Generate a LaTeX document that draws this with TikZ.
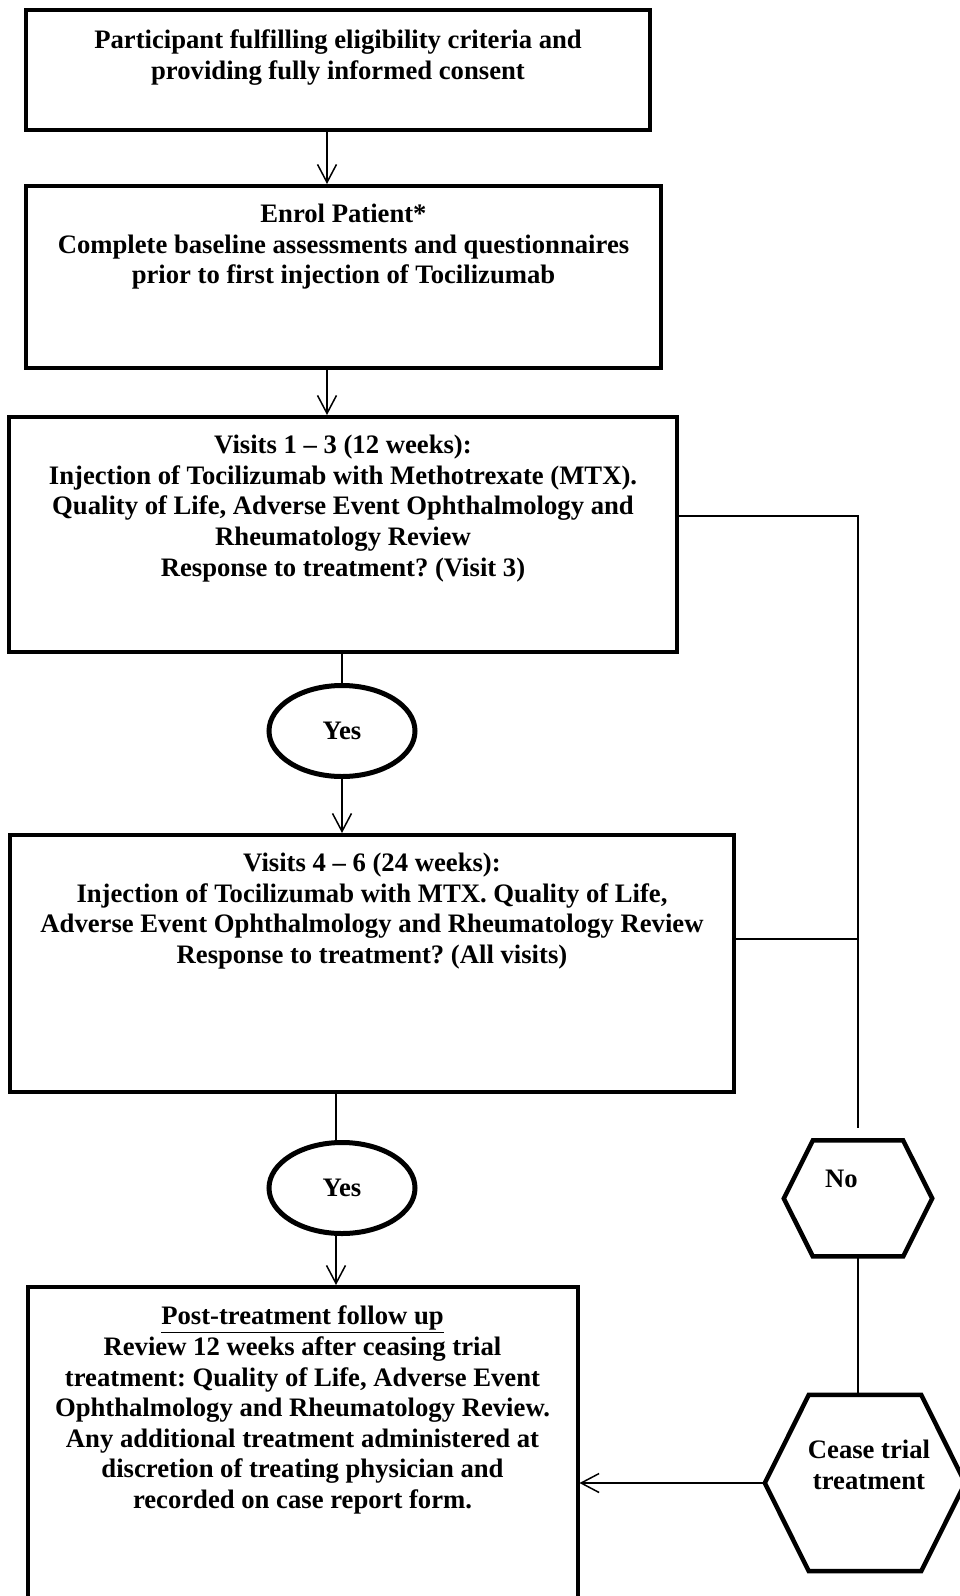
\documentclass[tikz,border=0pt]{standalone}
\usepackage{fontspec}
\setmainfont{Liberation Serif}
\usetikzlibrary{arrows.meta,shapes.geometric}
\frenchspacing
\tikzset{
  box/.style={draw, line width=4pt, inner sep=0pt},
  txt/.style={font=\bfseries\fontsize{26.67pt}{30.6pt}\selectfont, align=center, inner sep=0pt, anchor=north},
  conn/.style={line width=1.5pt},
  arr/.style={conn, -{Straight Barb[length=18pt,width=19pt,line width=1.5pt]}},
  yesnode/.style={ellipse, draw, line width=5pt, minimum width=146pt, minimum height=91pt, inner sep=0pt,
                  font=\bfseries\fontsize{26.67pt}{30.6pt}\selectfont},
  hexframe/.style={draw=none, inner sep=0pt},
  hexline/.style={line width=4.5pt, line join=miter}
}
\begin{document}
\begin{tikzpicture}[x=1pt,y=-1pt]
\useasboundingbox (0,0) rectangle (960,1596);
\clip (0,0) rectangle (960,1596);

% boxes
\node[box, minimum width=624pt, minimum height=120pt] (b1) at (338,69.5) {};
\node[box, minimum width=635pt, minimum height=182pt] (b2) at (343.5,277) {};
\node[box, minimum width=668pt, minimum height=235pt] (b3) at (343,534.5) {};
\node[box, minimum width=724pt, minimum height=257pt] (b4) at (372,963.5) {};
\node[box, minimum width=550pt, minimum height=413pt] (b5) at (302.5,1493.5) {};

% texts
\node[txt] (t1) at ([yshift=-22pt]b1.north) {Participant fulfilling eligibility criteria and\\providing fully informed consent};
\node[txt] (t2) at ([yshift=-20pt]b2.north) {Enrol Patient*\\Complete baseline assessments and questionnaires\\prior to first injection of Tocilizumab};
\node[txt] (t3) at ([yshift=-20pt]b3.north) {Visits 1 -- 3 (12 weeks):\\Injection of Tocilizumab with Methotrexate (MTX).\\Quality of Life, Adverse Event Ophthalmology and\\Rheumatology Review\\Response to treatment? (Visit 3)};
\node[txt] (t4) at ([yshift=-20pt]b4.north) {Visits 4 -- 6 (24 weeks):\\Injection of Tocilizumab with MTX. Quality of Life,\\Adverse Event Ophthalmology and Rheumatology Review\\Response to treatment? (All visits)};
\node[txt] (t5) at ([yshift=-21pt]b5.north) {\underline{Post-treatment follow up}\\Review 12 weeks after ceasing trial\\treatment: Quality of Life, Adverse Event\\Ophthalmology and Rheumatology Review.\\Any additional treatment administered at\\discretion of treating physician and\\recorded on case report form.};

% yes ellipses
\node[yesnode] (y1) at (342,731) {Yes};
\node[yesnode] (y2) at (342,1188) {Yes};

% hexagons
\node[hexframe, minimum width=148pt, minimum height=115.5pt] (no) at (858,1198.4) {};
\draw[hexline] (no.west) -- ([xshift=29pt]no.north west) -- ([xshift=-29pt]no.north east)
  -- (no.east) -- ([xshift=-29pt]no.south east) -- ([xshift=29pt]no.south west) -- cycle;
\node[txt, anchor=base] (tno) at (841.5,1187) {No};

\node[hexframe, minimum width=200pt, minimum height=176pt] (cease) at (865,1483) {};
\draw[hexline] (cease.west) -- ([xshift=44pt]cease.north west) -- ([xshift=-44pt]cease.north east)
  -- (cease.east) -- ([xshift=-44pt]cease.south east) -- ([xshift=44pt]cease.south west) -- cycle;
\node[txt] (tcease) at (869,1440) {Cease trial\\treatment};

% connectors
\draw[arr] ([xshift=-11pt]b1.south) -- ([xshift=-11pt]b1.south |- b2.north);
\draw[arr] ([xshift=-16.5pt]b2.south) -- ([xshift=-16.5pt]b2.south |- b3.north);
\draw[conn] (y1.north |- b3.south) -- (y1.north);
\draw[arr] (y1.south) -- (y1.south |- b4.north);
\draw[conn] ([xshift=-6pt]y2.north |- b4.south) -- ([xshift=-6pt]y2.north);
\draw[arr] ([xshift=-6pt]y2.south) -- ([xshift=-6pt]y2.south |- b5.north);
\draw[conn] ([yshift=18.5pt]b3.east) -| ([yshift=12pt]no.north);
\draw[conn] ([yshift=24.5pt]b4.east) -- ([yshift=24.5pt]b4.east -| no.north);
\draw[conn] (no.south) -- (no.south |- cease.north);
\draw[arr] (cease.west) -- (cease.west -| b5.east);
\end{tikzpicture}
\end{document}
